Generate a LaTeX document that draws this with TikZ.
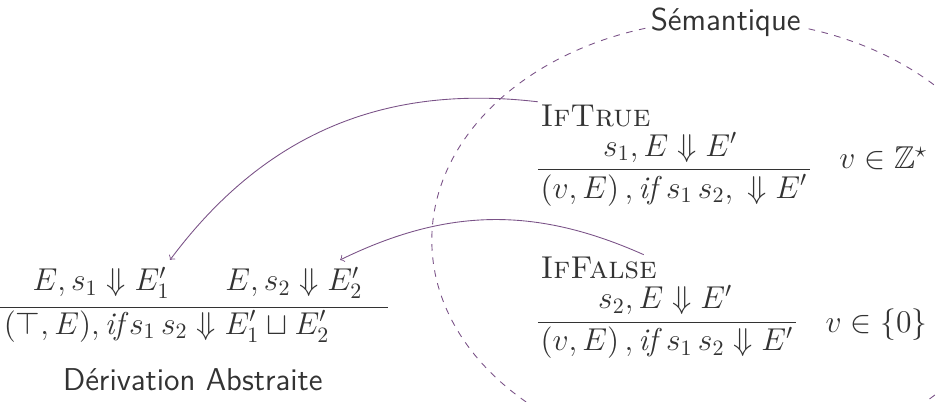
\documentclass[tikz,border=0pt]{standalone}
\usepackage{amsmath,amssymb}
\usetikzlibrary{positioning}

\definecolor{textgray}{HTML}{333333}
\definecolor{linkpurple}{HTML}{7A5287}

\tikzset{
  rulelab/.style={anchor=west, inner sep=1pt, font=\Large},
  judg/.style={inner sep=1pt, font=\Large},
  concl/.style={judg, anchor=west, inner ysep=2pt},
  sidecond/.style={anchor=west, inner sep=1pt, font=\Large},
  link/.style={->, linkpurple, thin},
}

\begin{document}
\begin{tikzpicture}[color=textgray]
	\useasboundingbox (0,0) rectangle (15,6.43);
	\clip (0,0) rectangle (15,6.43);

	% zone of the semantics
	\draw[linkpurple, dashed] (11.63,2.58) ellipse (4.71cm and 3.53cm);
	\node[fill=white, font=\sffamily\Large, inner sep=2pt] (sem) at (11.63,6.07) {Sémantique};

	% abstract derivation
	\node[judg] (aprem1) at (1.62,1.90) {$E, s_1 \Downarrow E'_1$};
	\node[judg] (aprem2) at (4.71,1.90) {$E, s_2 \Downarrow E'_2$};
	\node[concl] (aconc) at (0.02,1.20) {$(\top, E), \textit{if}\, s_1\, s_2 \Downarrow E'_1 \sqcup E'_2$};
	\draw (0,1.50) -- (6.22,1.50);
	\node[font=\sffamily\Large] (abs) at (3.09,0.35) {Dérivation Abstraite};

	% rule IfTrue
	\node[rulelab] (tlab) at (8.62,4.58) {\textsc{IfTrue}};
	\node[judg] (tprem) at (10.74,4.07) {$s_1, E \Downarrow E'$};
	\node[concl] (tconc) at (8.62,3.38) {$(v, E)\,, \textit{if}\; s_1\, s_2,\; \Downarrow E'$};
	\draw (tconc.north west) -- (tconc.north east);
	\node[sidecond] (tside) at (13.41,3.89) {$v \in \mathbb{Z}^\star$};

	% rule IfFalse
	\node[rulelab] (flab) at (8.62,2.13) {\textsc{IfFalse}};
	\node[judg] (fprem) at (10.66,1.62) {$s_2, E \Downarrow E'$};
	\node[concl] (fconc) at (8.62,0.94) {$(v, E)\,, \textit{if}\; s_1\, s_2 \Downarrow E'$};
	\draw (fconc.north west) -- (fconc.north east);
	\node[sidecond] (fside) at (13.19,1.22) {$v \in \{0\}$};

	\draw[link] (tlab.north west) to[bend right=30] ([xshift=-1pt, yshift=2pt]aprem1.north east);
	\draw[link] ([xshift=-0.25cm]flab.north east) to[bend right=25] ([xshift=-0.4cm, yshift=2pt]aprem2.north east);
\end{tikzpicture}
\end{document}
